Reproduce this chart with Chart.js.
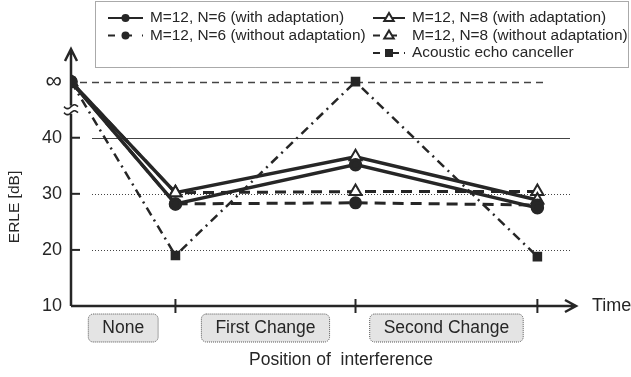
<!DOCTYPE html>
<html>
<head>
<meta charset="utf-8">
<script src="https://cdn.jsdelivr.net/npm/chart.js@4.4.0/dist/chart.umd.min.js"></script>
<style>
  html, body { margin: 0; padding: 0; background: #fff; }
  #wrap { width: 631px; height: 377px; }
</style>
</head>
<body>
<div id="wrap"><canvas id="erleChart" width="631" height="377"></canvas></div>
<script>
// data ("infinity" is drawn at 50 on the dB scale)
const xPositions = [0, 0.58, 1.58, 2.59];
const categories = ['None', 'First Change', 'Second Change'];
const n6With = [50, 28.2, 35.2, 27.5];
const n6Without = [50, 28.2, 28.4, 28.0];
const n8With = [50, 30.2, 36.6, 28.9];
const n8Without = [50, 30.2, 30.4, 30.4];
const aecValues = [50, 19.0, 50, 18.8];
const yTicks = [10, 20, 30, 40];
const infValue = 50;
const breakValue = 45;

const INK = '#262626';
const FONT = '"Liberation Sans", Arial, sans-serif';

function pts(ys) {
    return ys.map((y, i) => ({ x: xPositions[i], y: y }));
}

const datasets = [
    { label: 'M=12, N=6 (with adaptation)', data: pts(n6With), borderColor: INK, backgroundColor: INK,
      borderWidth: 3.5, pointStyle: 'circle', pointRadius: 5, borderDash: [] },
    { label: 'M=12, N=6 (without adaptation)', data: pts(n6Without), borderColor: INK, backgroundColor: INK,
      borderWidth: 3, pointStyle: 'circle', pointRadius: 5, borderDash: [11, 7] },
    { label: 'M=12, N=8 (with adaptation)', data: pts(n8With), borderColor: INK, backgroundColor: '#fff',
      borderWidth: 3.5, pointStyle: 'triangle', pointRadius: 7, pointBorderWidth: 2, borderDash: [] },
    { label: 'M=12, N=8 (without adaptation)', data: pts(n8Without), borderColor: INK, backgroundColor: '#fff',
      borderWidth: 3, pointStyle: 'triangle', pointRadius: 7, pointBorderWidth: 2, borderDash: [11, 7] },
    { label: 'Acoustic echo canceller', data: pts(aecValues), borderColor: INK, backgroundColor: INK,
      borderWidth: 2.5, pointStyle: 'rect', pointRadius: 5, borderDash: [9, 5, 2, 5] }
];
datasets.forEach(d => { d.fill = false; d.tension = 0; d.pointBorderColor = INK; d.pointBackgroundColor = d.backgroundColor; });

// legend layout: [dataset index, column, row]
const legendSlots = [[0, 0, 0], [1, 0, 1], [2, 1, 0], [3, 1, 1], [4, 1, 2]];

function drawMarker(ctx, style, x, y, r, fillColor) {
    ctx.save();
    ctx.setLineDash([]);
    ctx.fillStyle = fillColor;
    ctx.strokeStyle = INK;
    ctx.lineWidth = 2;
    ctx.beginPath();
    if (style === 'circle') {
        ctx.arc(x, y, r, 0, Math.PI * 2);
        ctx.fill();
    } else if (style === 'rect') {
        ctx.rect(x - r, y - r, r * 2, r * 2);
        ctx.fill();
    } else {
        ctx.moveTo(x, y - r);
        ctx.lineTo(x + r * 0.95, y + r * 0.6);
        ctx.lineTo(x - r * 0.95, y + r * 0.6);
        ctx.closePath();
        ctx.fill();
        ctx.stroke();
    }
    ctx.restore();
}

const decorPlugin = {
    id: 'decor',
    beforeDatasetsDraw(chart) {
        const ctx = chart.ctx;
        const y = chart.scales.y;
        ctx.save();
        // grid lines
        [[20, [1, 2], 1, 92, 570], [30, [1, 2], 1, 92, 570], [40, [], 1, 92, 570], [infValue, [7, 5], 1.6, 80, 547]]
            .forEach(([v, dash, w, x0, x1]) => {
                const py = Math.round(y.getPixelForValue(v)) + 0.5;
                ctx.strokeStyle = '#444';
                ctx.lineWidth = w;
                ctx.setLineDash(dash);
                ctx.beginPath();
                ctx.moveTo(x0, py);
                ctx.lineTo(x1, py);
                ctx.stroke();
            });
        ctx.restore();
    },
    afterDatasetsDraw(chart) {
        const ctx = chart.ctx;
        const xs = chart.scales.x;
        const ys = chart.scales.y;
        const area = chart.chartArea;
        const ax = xs.getPixelForValue(0);
        const ay = ys.getPixelForValue(10);
        ctx.save();
        ctx.strokeStyle = INK;
        ctx.fillStyle = INK;
        ctx.lineWidth = 2.5;
        ctx.setLineDash([]);
        // axes with arrows
        ctx.beginPath();
        ctx.moveTo(ax, ay);
        ctx.lineTo(ax, area.top + 1);
        ctx.moveTo(ax - 6, area.top + 13);
        ctx.lineTo(ax, area.top + 1);
        ctx.lineTo(ax + 6, area.top + 13);
        ctx.moveTo(ax, ay);
        ctx.lineTo(area.right - 1, ay);
        ctx.moveTo(area.right - 12, ay - 6);
        ctx.lineTo(area.right - 1, ay);
        ctx.lineTo(area.right - 12, ay + 6);
        ctx.stroke();
        // axis break
        const by = ys.getPixelForValue(breakValue);
        ctx.fillStyle = '#fff';
        ctx.fillRect(ax - 3, by - 4, 6, 8);
        ctx.lineWidth = 1.6;
        [-3, 3].forEach(off => {
            ctx.beginPath();
            for (let t = -7; t <= 7; t++) {
                const px = ax + t;
                const py = by + off - 2 * Math.sin(t / 7 * Math.PI);
                if (t === -7) ctx.moveTo(px, py); else ctx.lineTo(px, py);
            }
            ctx.stroke();
        });
        // y ticks
        ctx.lineWidth = 2;
        ctx.fillStyle = INK;
        ctx.font = '18px ' + FONT;
        ctx.textAlign = 'right';
        ctx.textBaseline = 'middle';
        yTicks.forEach(v => {
            const py = ys.getPixelForValue(v);
            if (v > 10) {
                ctx.beginPath();
                ctx.moveTo(ax, py);
                ctx.lineTo(ax + 9, py);
                ctx.stroke();
            }
            ctx.fillText(String(v), 62, py);
        });
        ctx.font = '23px ' + FONT;
        ctx.fillText('\u221E', 62, ys.getPixelForValue(infValue));
        // x ticks
        xPositions.slice(1).forEach(v => {
            const px = xs.getPixelForValue(v);
            ctx.beginPath();
            ctx.moveTo(px, ay - 7);
            ctx.lineTo(px, ay + 7);
            ctx.stroke();
        });
        // category boxes
        ctx.font = '17.5px ' + FONT;
        ctx.textAlign = 'center';
        categories.forEach((c, i) => {
            const cx = (xs.getPixelForValue(xPositions[i]) + xs.getPixelForValue(xPositions[i + 1])) / 2;
            const w = ctx.measureText(c).width + 28;
            ctx.fillStyle = '#e4e4e4';
            ctx.strokeStyle = '#555';
            ctx.lineWidth = 1;
            ctx.setLineDash([1, 1]);
            ctx.beginPath();
            ctx.roundRect(cx - w / 2, 314, w, 28, 5);
            ctx.fill();
            ctx.stroke();
            ctx.setLineDash([]);
            ctx.fillStyle = INK;
            ctx.fillText(c, cx, 328);
        });
        ctx.fillText('Position of  interference', 341, 360);
        ctx.font = '18px ' + FONT;
        ctx.textAlign = 'left';
        ctx.fillText('Time', 592, ay);
        // y title
        ctx.save();
        ctx.translate(15, 207);
        ctx.rotate(-Math.PI / 2);
        ctx.textAlign = 'center';
        ctx.font = '15.5px ' + FONT;
        ctx.fillText('ERLE [dB]', 0, 0);
        ctx.restore();
        // legend
        ctx.fillStyle = '#fff';
        ctx.strokeStyle = '#555';
        ctx.lineWidth = 1;
        ctx.setLineDash([1, 1]);
        ctx.fillRect(95.5, 1.5, 533, 66);
        ctx.strokeRect(95.5, 1.5, 533, 66);
        ctx.font = '15.4px ' + FONT;
        ctx.textBaseline = 'middle';
        legendSlots.forEach(([di, col, row]) => {
            const d = chart.data.datasets[di];
            const x0 = col === 0 ? 108 : 373;
            const x1 = col === 0 ? 143 : 405;
            const yy = 18 + row * 17.5;
            ctx.strokeStyle = INK;
            ctx.lineWidth = 2;
            if (d.borderDash.length === 2) ctx.setLineDash([7, 10]);
            else if (d.borderDash.length === 4) ctx.setLineDash([7, 5, 2, 5]);
            else ctx.setLineDash([]);
            ctx.beginPath();
            ctx.moveTo(x0, yy);
            ctx.lineTo(x1, yy);
            ctx.stroke();
            drawMarker(ctx, d.pointStyle, (x0 + x1) / 2, yy, d.pointStyle === 'triangle' ? 5 : 4, d.backgroundColor);
            ctx.fillStyle = INK;
            ctx.setLineDash([]);
            ctx.fillText(d.label, col === 0 ? 150 : 412, yy);
        });
        ctx.restore();
    }
};

new Chart(document.getElementById('erleChart'), {
    type: 'line',
    data: { datasets: datasets },
    options: {
        responsive: false,
        animation: false,
        layout: { padding: { left: 71, right: 54, top: 48, bottom: 71 } },
        scales: {
            x: { type: 'linear', min: 0, max: 2.81, display: false },
            y: { type: 'linear', min: 10, max: 56, display: false }
        },
        plugins: { legend: { display: false }, tooltip: { enabled: false } }
    },
    plugins: [decorPlugin]
});
</script>
</body>
</html>
